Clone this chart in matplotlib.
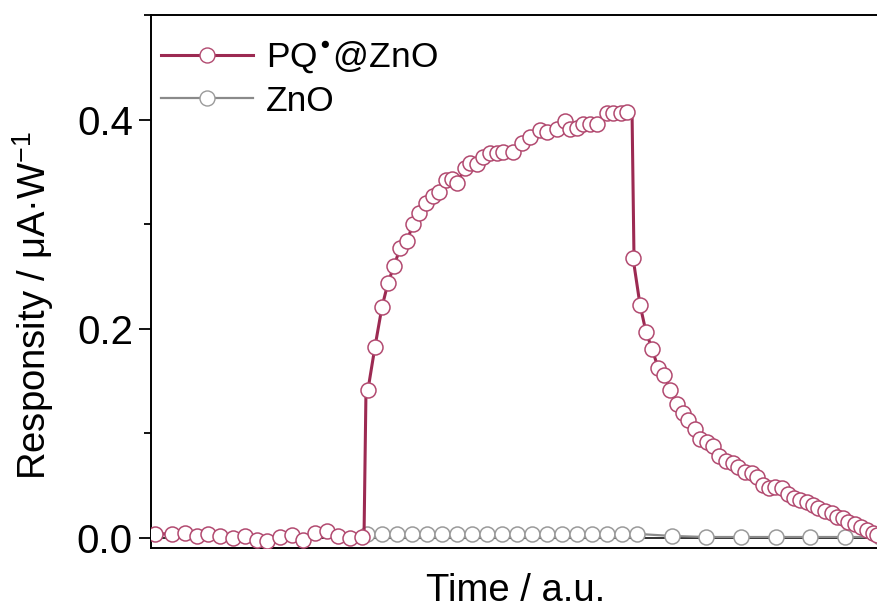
import matplotlib
matplotlib.use("Agg")
import matplotlib.pyplot as plt
from matplotlib.ticker import MultipleLocator

plt.rcParams['font.family'] = ['Liberation Sans', 'DejaVu Sans']
plt.rcParams['mathtext.default'] = 'regular'

# PQ@ZnO markers (time in a.u., responsity in uA/W)
pq_time = [4, 21, 34, 46, 57, 69, 82, 94, 106, 116, 129, 141, 152, 164, 176, 187, 199, 211,
           217, 224, 231, 237, 243, 249, 256, 262, 268, 275, 282, 288, 295, 301, 306, 314,
           319, 326, 332, 339, 346, 352, 362, 371, 379, 389, 396, 406, 414, 419, 426, 432,
           439, 446, 456, 462, 470, 476,
           482, 489, 495, 501, 507, 513, 519, 526, 532, 537, 544, 549, 556, 562, 568, 575,
           582, 587, 594, 601, 606, 612, 618, 624, 631, 637, 643, 649, 656, 662, 667, 674,
           681, 686, 692, 697, 704, 710, 716, 722, 726]
pq_resp = [0.004, 0.004, 0.005, 0.002, 0.004, 0.002, 0.000, 0.002, -0.002, -0.003, 0.001,
           0.003, -0.002, 0.005, 0.007, 0.002, 0.000, 0.001,
           0.142, 0.183, 0.221, 0.244, 0.260, 0.277, 0.284, 0.300, 0.311, 0.320, 0.327,
           0.331, 0.342, 0.343, 0.339, 0.354, 0.359, 0.358, 0.364, 0.368, 0.368, 0.369,
           0.369, 0.378, 0.383, 0.390, 0.388, 0.391, 0.399, 0.391, 0.392, 0.396, 0.396,
           0.396, 0.406, 0.406, 0.406, 0.407,
           0.268, 0.223, 0.197, 0.181, 0.163, 0.156, 0.142, 0.128, 0.120, 0.113, 0.104,
           0.095, 0.092, 0.088, 0.078, 0.074, 0.072, 0.068, 0.063, 0.062, 0.058, 0.051,
           0.048, 0.049, 0.048, 0.042, 0.038, 0.036, 0.034, 0.032, 0.029, 0.026, 0.024,
           0.020, 0.019, 0.015, 0.013, 0.011, 0.008, 0.005, 0.003]

# light on / light off switching points of the PQ@ZnO trace
switch_time = [213, 481]
switch_resp = [(0.000, 0.142), (0.410, 0.268)]

# ZnO reference
zno_time = [216, 231, 246, 261, 276, 291, 306, 321, 336, 351, 366, 381, 396, 411, 426,
            441, 456, 471, 486, 521, 555, 590, 625, 659, 694, 729]
zno_resp = [0.004] * 19 + [0.002, 0.001, 0.001, 0.001, 0.001, 0.001, 0.001]

crimson = '#9c2a52'
grey = '#8a8a8a'

fig = plt.figure(figsize=(8.77, 6.08), dpi=100)
ax = fig.add_axes([151 / 877, 60 / 608, 729 / 877, 533 / 608])

# line through markers with the vertical switching edges
line_t, line_r = [], []
for t, r in zip(pq_time, pq_resp):
    for st, (r0, r1) in zip(switch_time, switch_resp):
        if line_t and line_t[-1] < st <= t:
            line_t += [st, st + 2]
            line_r += [r0, r1]
    line_t.append(t)
    line_r.append(r)

ax.axhline(0, color='#222222', lw=1.3, zorder=1)
ax.plot(zno_time, zno_resp, color=grey, lw=1.6, zorder=2)
ax.plot(zno_time, zno_resp, 'o', ms=10.8, mfc='white', mec='#9a9a9a', mew=1.1, zorder=3)
ax.plot(line_t, line_r, color=crimson, lw=2.2, zorder=4)
ax.plot(pq_time, pq_resp, 'o', ms=10.8, mfc='white', mec='#b24a70', mew=1.1, zorder=5)

# legend proxies
h1, = ax.plot([], [], '-o', color=crimson, ms=10.8, mfc='white', mec='#b24a70', lw=2.2)
h2, = ax.plot([], [], '-o', color=grey, ms=10.8, mfc='white', mec='#9a9a9a', lw=1.6)
ax.legend([h1, h2], ['PQ$^{•}$@ZnO', 'ZnO'], loc='upper left',
          bbox_to_anchor=(-0.02, 1.0), frameon=False, fontsize=25.5, handlelength=2.6,
          handletextpad=0.35, labelspacing=0.25, borderpad=0.2)

ax.set_xlim(0, 729)
ax.set_ylim(-0.0095, 0.5)
ax.yaxis.set_major_locator(MultipleLocator(0.2))
ax.yaxis.set_minor_locator(MultipleLocator(0.1))
ax.yaxis.set_major_formatter(plt.FuncFormatter(lambda v, p: f'{v:.1f}'))
ax.tick_params(axis='y', which='major', direction='out', length=9, width=1.3,
               labelsize=29, pad=4)
ax.tick_params(axis='y', which='minor', direction='out', length=5, width=1.3)
ax.tick_params(axis='x', bottom=False, labelbottom=False)
for s in ax.spines.values():
    s.set_linewidth(1.4)

ax.set_ylabel('Responsity / μA·W$^{-1}$', fontsize=27.5)
ax.yaxis.set_label_coords(-0.13, 0.455)
ax.set_xlabel('Time / a.u.', fontsize=27.5, labelpad=18)

fig.savefig('out.png', dpi=100)
